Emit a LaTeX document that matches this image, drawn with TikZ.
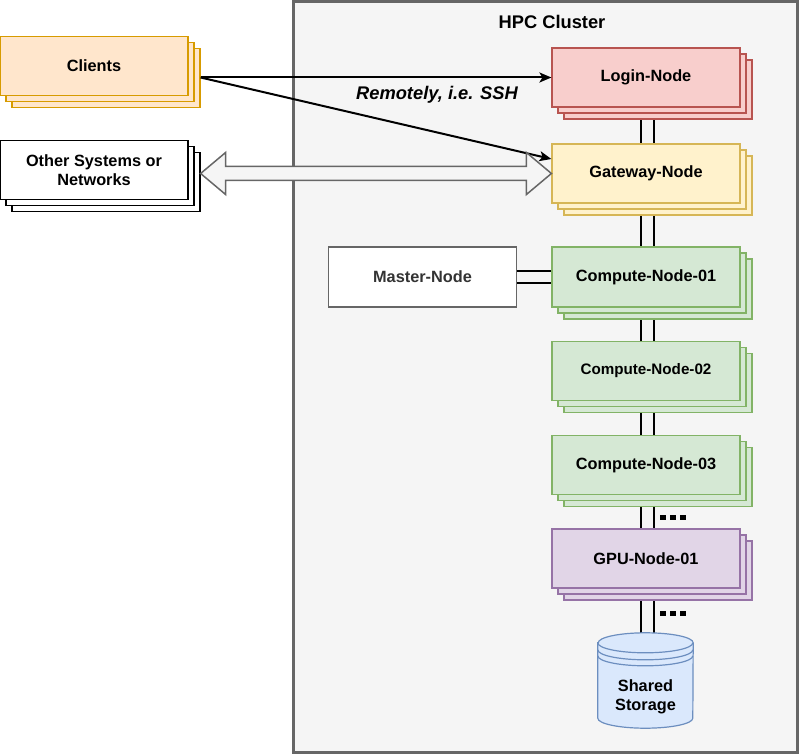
\documentclass[tikz,border=0pt]{standalone}
\usepackage{fontspec}
\setmainfont{Liberation Sans}
\usetikzlibrary{arrows.meta,shadows,calc}
\definecolor{clfill}{HTML}{FFE6CC}\definecolor{cldraw}{HTML}{D79B00}
\definecolor{lgfill}{HTML}{F8CECC}\definecolor{lgdraw}{HTML}{B85450}
\definecolor{gwfill}{HTML}{FFF2CC}\definecolor{gwdraw}{HTML}{D6B656}
\definecolor{cpfill}{HTML}{D5E8D4}\definecolor{cpdraw}{HTML}{82B366}
\definecolor{gpfill}{HTML}{E1D5E7}\definecolor{gpdraw}{HTML}{9673A6}
\definecolor{stfill}{HTML}{DAE8FC}\definecolor{stdraw}{HTML}{6C8EBF}
\definecolor{clufill}{HTML}{F5F5F5}\definecolor{cludraw}{HTML}{666666}
\definecolor{mtext}{HTML}{333333}
\pgfdeclarelayer{bg}\pgfdeclarelayer{edges}
\pgfsetlayers{bg,edges,main}
\tikzset{
  box/.style={rectangle, minimum width=188pt, minimum height=59pt, line width=1.2pt,
    font=\fontsize{16.3}{19}\selectfont\bfseries, inner sep=0pt, align=center},
  stackbox/.style={box, double copy shadow={shadow xshift=6pt, shadow yshift=-6pt}},
  dl/.style={line width=2pt, black},
  arr/.style={line width=2pt, black, -{Stealth[length=12pt,width=10pt,inset=3pt]}},
  flex/.style={line width=1.5pt, draw=cludraw, fill=clufill, line join=miter},
  dots/.style={line width=5pt, black, dash pattern=on 6pt off 4pt},
}
\begin{document}
\begin{tikzpicture}[x=1pt,y=-1pt]
\useasboundingbox (0,0) rectangle (800,754);
\begin{pgfonlayer}{bg}
\node[rectangle, draw=cludraw, fill=clufill, line width=3pt, minimum width=504pt, minimum height=750pt, inner sep=0pt] (cluster) at (545,377) {};
\end{pgfonlayer}
\node[font=\fontsize{18.3}{21}\selectfont\bfseries] (title) at (552,22) {HPC Cluster};

\node[stackbox, fill=clfill, draw=cldraw] (clients) at (94,66) {Clients};
\node[stackbox, fill=white, draw=black] (other) at (94,170) {Other Systems or\\Networks};

\node[stackbox, fill=lgfill, draw=lgdraw] (login) at (646,77.5) {Login-Node};
\node[stackbox, fill=gwfill, draw=gwdraw] (gw) at (646,173.5) {Gateway-Node};
\node[box, minimum height=60pt, fill=white, draw=cludraw, line width=1.6pt, text=mtext] (master) at (422.5,277) {Master-Node};
\node[stackbox, minimum height=60pt, fill=cpfill, draw=cpdraw] (c1) at (646,277) {Compute-Node-01};
\node[stackbox, fill=cpfill, draw=cpdraw, font=\fontsize{15.2}{18}\selectfont\bfseries] (c2) at (646,371) {Compute-Node-02};
\node[stackbox, fill=cpfill, draw=cpdraw] (c3) at (646,465) {Compute-Node-03};
\node[stackbox, fill=gpfill, draw=gpdraw] (gpu) at (646,558.5) {GPU-Node-01};

% shared storage (datastore cylinder)
\node[rectangle, minimum width=95pt, minimum height=95pt, inner sep=0pt] (stor) at (645.5,680.5) {};
\filldraw[fill=stfill, draw=stdraw, line width=1.2pt]
  ($(stor.north west)+(0,10)$) -- ($(stor.south west)+(0,-10)$)
  arc[start angle=180, end angle=360, x radius=47.5pt, y radius=10pt]
  -- ($(stor.north east)+(0,10)$)
  arc[start angle=0, end angle=180, x radius=47.5pt, y radius=10pt] -- cycle;
\draw[draw=stdraw, line width=1.2pt]
  ($(stor.north west)+(0,10)$) arc[start angle=180, end angle=360, x radius=47.5pt, y radius=10pt];
\draw[draw=stdraw, line width=1.2pt]
  ($(stor.north west)+(0,17)$) arc[start angle=180, end angle=360, x radius=47.5pt, y radius=10pt];
\draw[draw=stdraw, line width=1.2pt]
  ($(stor.north west)+(0,23)$) arc[start angle=180, end angle=360, x radius=47.5pt, y radius=10pt];
\node[font=\fontsize{16.3}{19}\selectfont\bfseries, align=center] (stortext) at (645.5,697) {Shared\\Storage};

% connectors
\begin{pgfonlayer}{edges}
\foreach \a/\b in {login/gw, gw/c1, c1/c2, c2/c3, c3/gpu, gpu/stor} {
  \draw[dl] ([xshift=-5pt]\a.center) -- ([xshift=-5pt]\a.center |- \b.center);
  \draw[dl] ([xshift=8pt]\a.center) -- ([xshift=8pt]\a.center |- \b.center);
}
\draw[dl] ([yshift=6pt]master.center) -- ([yshift=6pt]master.center -| c1.center);
\draw[dl] ([yshift=-6pt]master.center) -- ([yshift=-6pt]master.center -| c1.center);
\end{pgfonlayer}
\coordinate (d1s) at (660,517);
\coordinate (d1e) at (686,517);
\coordinate (d2s) at (660,613);
\coordinate (d2e) at (686,613);
\draw[dots] (d1s) -- (d1e);
\draw[dots] (d2s) -- (d2e);

\coordinate (cl) at ([xshift=12pt]clients.east);
\draw[arr] (cl |- login.west) -- (login.west);
\draw[arr] (cl |- login.west) -- ([yshift=14.5pt]gw.west);
\node[font=\fontsize{18.3}{21}\selectfont\bfseries\itshape] (ssh) at (437,95) {Remotely, i.e. SSH};

\coordinate (fl) at ([xshift=12pt]other.east |- gw.west);
\coordinate (fr) at (gw.west);
\draw[flex] (fl) -- ++(25,-21) -- ++(0,14) -- ($(fr)+(-25,-7)$) -- ++(0,-14) -- (fr)
  -- ++(-25,21) -- ++(0,-14) -- ($(fl)+(25,7)$) -- ++(0,14) -- cycle;
\end{tikzpicture}
\end{document}
